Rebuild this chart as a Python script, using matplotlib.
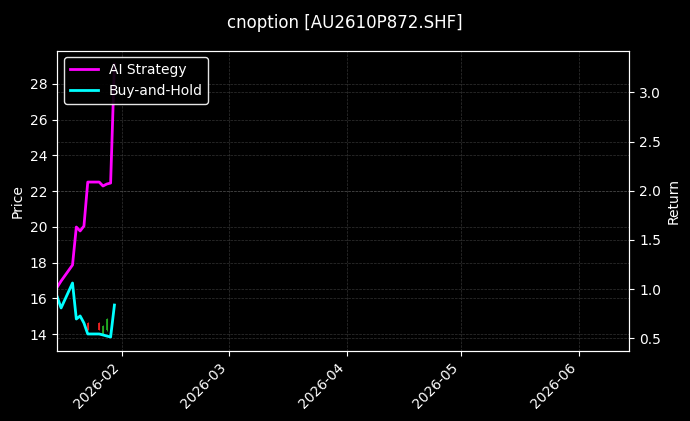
import matplotlib
matplotlib.use("Agg")
import matplotlib.pyplot as plt
import matplotlib.dates as mdates
import pandas as pd

dates = pd.to_datetime([
    "2026-01-15", "2026-01-16", "2026-01-19", "2026-01-20", "2026-01-21", "2026-01-22",
    "2026-01-23", "2026-01-26", "2026-01-27", "2026-01-28", "2026-01-29", "2026-01-30",
])
ai_strategy = [1.021, 1.082, 1.245, 1.631, 1.591, 1.641, 2.088, 2.088, 2.048, 2.068, 2.078, 3.286]
buy_hold = [0.920, 0.808, 1.062, 0.696, 0.727, 0.655, 0.544, 0.544, 0.534, 0.523, 0.513, 0.838]

candle_dates = pd.to_datetime(["2026-01-23", "2026-01-26", "2026-01-27", "2026-01-28"])
candle_open = [14.61, 14.61, 14.00, 14.20]
candle_close = [14.22, 14.22, 14.45, 14.85]
candle_high = [14.65, 14.65, 14.50, 14.90]
candle_low = [14.20, 14.20, 13.94, 14.15]

plt.rcParams['font.family'] = ['DejaVu Sans']
fig = plt.figure(figsize=(6.9, 4.21), dpi=100, facecolor='black')
ax = fig.add_axes([0.0830, 0.167, 0.829, 0.713])
ax.set_facecolor('black')
ax2 = ax.twinx()

# candles on the price axis
for d, o, c, h, l in zip(candle_dates, candle_open, candle_close, candle_high, candle_low):
    col = '#22aa22' if c >= o else '#ee2222'
    ax.vlines(d, l, h, color=col, linewidth=0.8, alpha=0.9)
    ax.bar(d, abs(c - o), bottom=min(o, c), width=0.5, color=col, alpha=0.9)

l1, = ax2.plot(dates, ai_strategy, color='#ff00ff', linewidth=2, label='AI Strategy')
l2, = ax2.plot(dates, buy_hold, color='#00ffff', linewidth=2, label='Buy-and-Hold')

ax.set_xlim(pd.Timestamp("2026-01-15"), pd.Timestamp("2026-06-14 03:00"))
ax.set_ylim(13.07, 29.86)
ax2.set_ylim(0.374, 3.425)

ax.xaxis.set_major_locator(mdates.MonthLocator())
ax.xaxis.set_major_formatter(mdates.DateFormatter('%Y-%m'))
plt.setp(ax.get_xticklabels(), rotation=45, ha='right')

for a in (ax, ax2):
    a.tick_params(colors='white', labelsize=10)
    for s in a.spines.values():
        s.set_color('white')
    a.grid(True, color='gray', linestyle='--', linewidth=0.5, alpha=0.4)

ax.set_ylabel('Price', color='white')
ax2.set_ylabel('Return', color='white')

leg = ax2.legend(handles=[l1, l2], loc='upper left', facecolor='black', edgecolor='white', framealpha=0.9)
for t in leg.get_texts():
    t.set_color('white')

fig.suptitle('cnoption [AU2610P872.SHF]', color='white', fontsize=12, y=0.966)
fig.savefig('out.png', dpi=100, facecolor='black')
